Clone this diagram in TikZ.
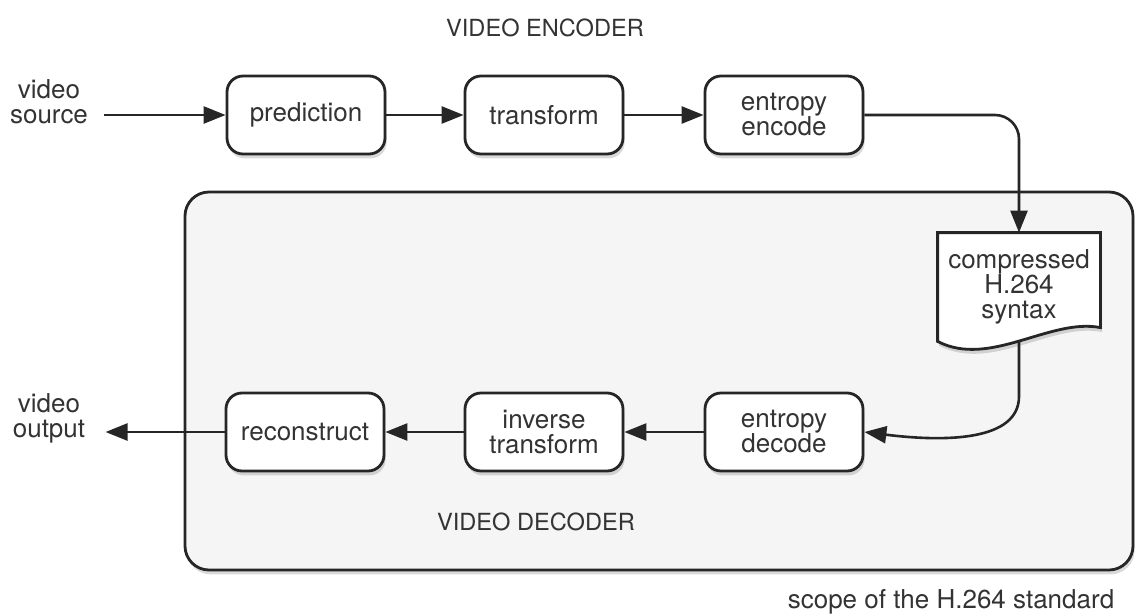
\documentclass[tikz,border=0pt]{standalone}
\usepackage{fontspec}
\setmainfont{TeX Gyre Heros}
\usetikzlibrary{arrows.meta,shadows}

\begin{document}
\begin{tikzpicture}[x=0.5pt, y=-0.5pt,
    font=\fontsize{13}{12.5}\selectfont,
    softshadow/.style={drop shadow={opacity=0.3, shadow xshift=0.8pt, shadow yshift=-2.2pt}},
    stage/.style={draw=black!85, line width=1.4pt, rounded corners=8pt, fill=white,
      minimum width=79pt, minimum height=39pt, inner sep=0pt, align=center,
      text=black!80, softshadow},
    scopebox/.style={draw=black!85, line width=1.4pt, rounded corners=12pt, fill=black!4,
      minimum width=474pt, minimum height=189pt, inner sep=0pt, softshadow},
    doctext/.style={minimum width=81pt, minimum height=54pt, inner sep=0pt, align=center,
      text=black!80},
    docshape/.style={draw=black!85, line width=1.4pt, fill=white, softshadow},
    caption/.style={text=black!80, align=center, inner sep=0pt},
    heading/.style={caption, font=\fontsize{11.8}{12}\selectfont},
    flow/.style={draw=black!85, line width=1.3pt, -{Triangle[length=11pt,width=8.5pt]}}]
  \useasboundingbox (0,0) rectangle (1136,616);

  % decoder scope
  \node[scopebox] (scope) at (659,381) {};

  % encoder chain
  \node[stage] (pred) at (306,115) {prediction};
  \node[stage] (trans) at (544,115) {transform};
  \node[stage] (enc) at (784,115) {entropy\\encode};

  % decoder chain
  \node[stage] (dec) at (784,432) {entropy\\decode};
  \node[stage] (itrans) at (544,432) {inverse\\transform};
  \node[stage] (recon) at (305,432) {reconstruct};

  % bitstream
  \node[doctext] (doc) at (1019,287) {};
  \draw[docshape] (doc.north west) -- (doc.north east) -- ++(0,95)
    .. controls +(-50,-10) and +(52,27) .. (doc.south west) -- cycle;
  \node[doctext] at (doc) {compressed\\H.264\\syntax};

  % labels
  \node[caption] (src) at (49,102) {video\\source};
  \node[caption] (out) at (49,418) {video\\output};
  \node[heading] (enclabel) at (545,28) {VIDEO ENCODER};
  \node[heading] (declabel) at (536,522) {VIDEO DECODER};
  \node[caption] (scopelabel) at (951,602) {scope of the H.264 standard};

  % connectors
  \draw[flow] ([xshift=8pt]src.east |- pred) -- (pred);
  \draw[flow] (pred) -- (trans);
  \draw[flow] (trans) -- (enc);
  \draw[flow, rounded corners=12pt] (enc.east) -| (doc.north);
  \draw[flow] (doc.south) -- ++(0,55) .. controls +(0,45) and +(80,10) .. (dec.east);
  \draw[flow] (dec) -- (itrans);
  \draw[flow] (itrans) -- (recon);
  \draw[flow] (recon) -- ([xshift=10pt]out.east |- recon);
\end{tikzpicture}
\end{document}
